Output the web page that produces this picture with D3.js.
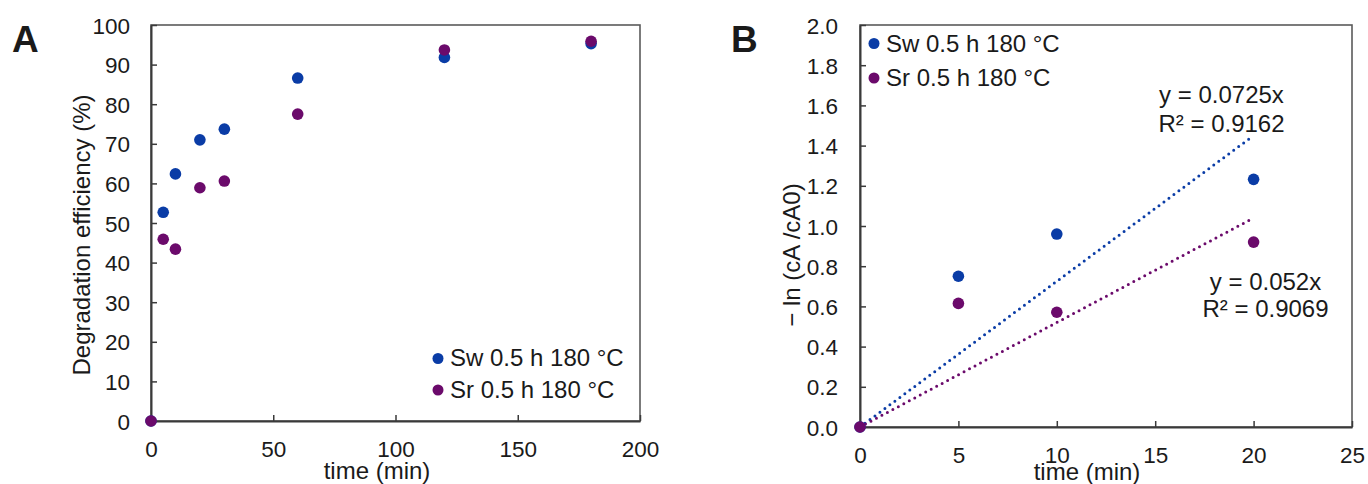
<!DOCTYPE html>
<html><head><meta charset="utf-8">
<script src="https://cdn.jsdelivr.net/npm/d3@7"></script>
<style>
html,body{margin:0;padding:0;background:#fff;}
svg text{font-family:"Liberation Sans",Arial,sans-serif;fill:#1a1a1a;}
</style></head>
<body>
<svg id="chart" width="1368" height="484"></svg>
<script>
// ---------- data ----------
const seriesNames = ["Sw 0.5 h 180 °C", "Sr 0.5 h 180 °C"];
const seriesColors = ["#0a3ca6", "#6b0a6b"];

// Panel A: degradation efficiency (%)
const timeA = [0, 5, 10, 20, 30, 60, 120, 180];
const swEff = [0, 52.7, 62.4, 71.0, 73.7, 86.6, 91.8, 95.3];
const srEff = [0, 45.9, 43.4, 58.9, 60.6, 77.5, 93.7, 95.9];
const xTicksA = [0, 50, 100, 150, 200];
const yTicksA = [0, 10, 20, 30, 40, 50, 60, 70, 80, 90, 100];

// Panel B: -ln(cA/cA0)
const timeB = [0, 5, 10, 20];
const swLn = [0, 0.75, 0.96, 1.232];
const srLn = [0, 0.615, 0.571, 0.92];
const slopes = [0.0725, 0.052];
const r2 = ["0.9162", "0.9069"];
const fitRange = [0, 20];
const xTicksB = [0, 5, 10, 15, 20, 25];
const yTicksB = [0, 0.2, 0.4, 0.6, 0.8, 1.0, 1.2, 1.4, 1.6, 1.8, 2.0];

// ---------- drawing ----------
const svg = d3.select("#chart");
const axisCol = "#3a3a3a", frameCol = "#5a5a5a";
const R = 5.8;

function panel(opt) {
  const g = svg.append("g");
  const x = d3.scaleLinear().domain(opt.xDom).range([opt.left, opt.right]);
  const y = d3.scaleLinear().domain(opt.yDom).range([opt.bottom, opt.top]);
  // frame
  g.append("rect").attr("x", opt.left).attr("y", opt.top)
    .attr("width", opt.right - opt.left).attr("height", opt.bottom - opt.top)
    .attr("fill", "none").attr("stroke", frameCol).attr("stroke-width", 1.6);
  // axes with inward ticks
  const xa = g.append("g").attr("transform", `translate(0,${opt.bottom})`)
    .call(d3.axisBottom(x).tickValues(opt.xTicks).tickSizeInner(-6).tickSizeOuter(0).tickFormat(opt.xFmt).tickPadding(0));
  const ya = g.append("g").attr("transform", `translate(${opt.left},0)`)
    .call(d3.axisLeft(y).tickValues(opt.yTicks).tickSizeInner(-6).tickSizeOuter(0).tickFormat(opt.yFmt).tickPadding(0));
  [xa, ya].forEach(a => {
    a.select(".domain").attr("stroke", axisCol).attr("stroke-width", 2);
    a.selectAll(".tick line").attr("stroke", axisCol).attr("stroke-width", 1.5);
    a.selectAll(".tick text").attr("fill", "#1a1a1a").style("font-size", "22.5px")
      .style("font-family", '"Liberation Sans",Arial,sans-serif');
  });
  xa.selectAll(".tick text").attr("y", opt.xLabBase - opt.bottom).attr("dy", 0);
  ya.selectAll(".tick text").attr("x", -opt.yLabGap).attr("dy", "0.36em");
  return {g, x, y};
}

// Panel A
const A = panel({xDom:[0,200], yDom:[0,100], left:151, right:640, top:25, bottom:421,
  xTicks:xTicksA, yTicks:yTicksA, xFmt:d3.format("d"), yFmt:d3.format("d"), xLabBase:457, yLabGap:21});
// Panel B
const B = panel({xDom:[0,25], yDom:[0,2], left:860, right:1352, top:25, bottom:427,
  xTicks:xTicksB, yTicks:yTicksB, xFmt:d3.format("d"), yFmt:d3.format(".1f"), xLabBase:463, yLabGap:22});

// Panel letters
svg.append("text").attr("x", 12).attr("y", 52).text("A").style("font-size", "37px").style("font-weight", "bold").attr("fill","#000");
svg.append("text").attr("x", 731).attr("y", 52).text("B").style("font-size", "37px").style("font-weight", "bold").attr("fill","#000");

// Axis titles
svg.append("text").attr("x", 377).attr("y", 479).attr("text-anchor", "middle").style("font-size", "24px").text("time (min)");
svg.append("text").attr("x", 1087).attr("y", 480).attr("text-anchor", "middle").style("font-size", "24px").text("time (min)");
svg.append("text").attr("transform", "translate(90,235) rotate(-90)").attr("text-anchor", "middle").style("font-size", "24px").text("Degradation efficiency (%)");
svg.append("text").attr("transform", "translate(800,255) rotate(-90)").attr("text-anchor", "middle").style("font-size", "24px").text("− ln (cA /cA0)");

// Panel A points
[swEff, srEff].forEach((vals, i) => {
  A.g.append("g").selectAll("circle").data(timeA.map((t, j) => [t, vals[j]])).join("circle")
    .attr("cx", d => A.x(d[0])).attr("cy", d => A.y(d[1])).attr("r", R).attr("fill", seriesColors[i]);
});

// Panel B trendlines
slopes.forEach((k, i) => {
  B.g.append("line")
    .attr("x1", B.x(fitRange[0])).attr("y1", B.y(k * fitRange[0]))
    .attr("x2", B.x(fitRange[1])).attr("y2", B.y(k * fitRange[1]))
    .attr("stroke", seriesColors[i]).attr("stroke-width", 3)
    .attr("stroke-linecap", "round").attr("stroke-dasharray", "0 6.2");
});
// Panel B points
[swLn, srLn].forEach((vals, i) => {
  B.g.append("g").selectAll("circle").data(timeB.map((t, j) => [t, vals[j]])).join("circle")
    .attr("cx", d => B.x(d[0])).attr("cy", d => B.y(d[1])).attr("r", R).attr("fill", seriesColors[i]);
});

// Equations
const eqPos = [[1221.5, 103, 132], [1265.5, 290, 317]];
slopes.forEach((k, i) => {
  const t = svg.append("text").attr("text-anchor", "middle").style("font-size", "24px");
  t.append("tspan").attr("x", eqPos[i][0]).attr("y", eqPos[i][1]).text(`y = ${k}x`);
  t.append("tspan").attr("x", eqPos[i][0]).attr("y", eqPos[i][2]).text(`R² = ${r2[i]}`);
});

// Legends
function legend(x0, ys, bases) {
  seriesNames.forEach((n, i) => {
    svg.append("circle").attr("cx", x0).attr("cy", ys[i]).attr("r", 5.5).attr("fill", seriesColors[i]);
    svg.append("text").attr("x", x0 + 12).attr("y", bases[i]).style("font-size", "24px").text(n);
  });
}
legend(438, [358.5, 390], [366, 398]);
legend(874, [43.5, 78], [52, 86]);
</script>
</body></html>
